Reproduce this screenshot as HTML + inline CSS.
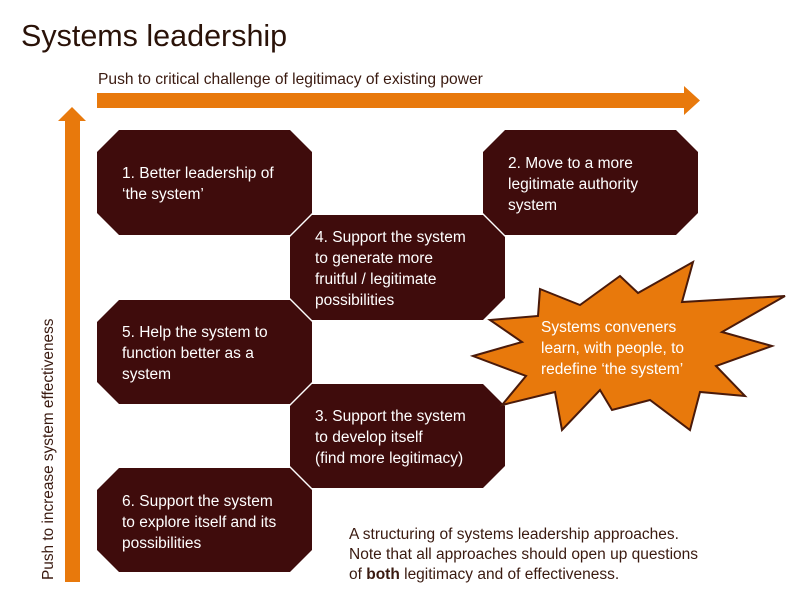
<!DOCTYPE html>
<html><head><meta charset="utf-8"><style>
html,body{margin:0;padding:0;background:#fff}
svg{display:block}
text{font-family:"Liberation Sans",sans-serif}
</style></head><body>
<svg width="800" height="606" viewBox="0 0 800 606" xmlns="http://www.w3.org/2000/svg">
<text x="21" y="46" font-size="30.5" fill="#2a1208">Systems leadership</text>
<text x="98" y="84" font-size="15.6" fill="#3a1a10">Push to critical challenge of legitimacy of existing power</text>
<polygon points="97,93 684,93 684,86 700,100.5 684,115 684,108 97,108" fill="#e8790c"/>
<polygon points="65,582 65,121 58,121 72,107 86,121 80,121 80,582" fill="#e8790c"/>
<text transform="translate(53,580) rotate(-90)" font-size="15.4" fill="#3a1a10">Push to increase system effectiveness</text>
<g fill="#3f0c0c">
<polygon points="119,130 290,130 312,152 312,213 290,235 119,235 97,213 97,152"/>
<polygon points="505,130 676,130 698,152 698,213 676,235 505,235 483,213 483,152"/>
<polygon points="312,215 483,215 505,237 505,298 483,320 312,320 290,298 290,237"/>
<polygon points="119,300 290,300 312,322 312,382 290,404 119,404 97,382 97,322"/>
<polygon points="312,384 483,384 505,406 505,466 483,488 312,488 290,466 290,406"/>
<polygon points="119,468 290,468 312,490 312,550 290,572 119,572 97,550 97,490"/>
</g>
<g font-size="15.5" fill="#fff">
<text x="122" y="178">1. Better leadership of</text>
<text x="122" y="199">‘the system’</text>
<text x="508" y="168">2. Move to a more</text>
<text x="508" y="189">legitimate authority</text>
<text x="508" y="210">system</text>
<text x="315" y="242">4. Support the system</text>
<text x="315" y="263">to generate more</text>
<text x="315" y="284">fruitful / legitimate</text>
<text x="315" y="305">possibilities</text>
<text x="122" y="337">5. Help the system to</text>
<text x="122" y="358">function better as a</text>
<text x="122" y="379">system</text>
<text x="315" y="421">3. Support the system</text>
<text x="315" y="442">to develop itself</text>
<text x="315" y="463">(find more legitimacy)</text>
<text x="122" y="506">6. Support the system</text>
<text x="122" y="527">to explore itself and its</text>
<text x="122" y="548">possibilities</text>
</g>
<polygon points="473,356 522,342 490,320 538,316 540,289 580,305 620,276 638,293 693,262 682,302 785,296 722,332 772,346 716,366 745,396 700,392 690,430 650,400 612,410 600,390 562,430 555,392 502,405 526,376" fill="#e8790c" stroke="#4a1a0a" stroke-width="2"/>
<g font-size="15.5" fill="#fff">
<text x="541" y="332">Systems conveners</text>
<text x="541" y="353">learn, with people, to</text>
<text x="541" y="374">redefine ‘the system’</text>
</g>
<g font-size="15.5" fill="#3a1a10">
<text x="349" y="539">A structuring of systems leadership approaches.</text>
<text x="349" y="559">Note that all approaches should open up questions</text>
<text x="349" y="579">of <tspan font-weight="bold">both</tspan> legitimacy and of effectiveness.</text>
</g>
</svg>
</body></html>
